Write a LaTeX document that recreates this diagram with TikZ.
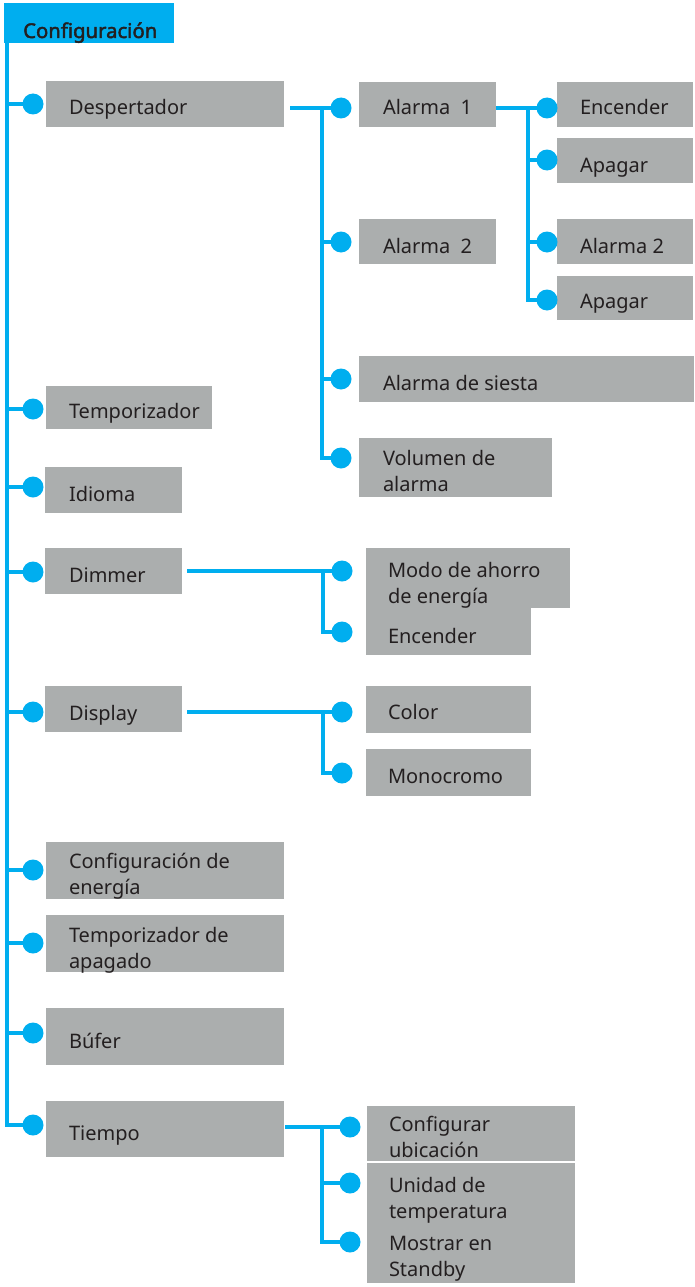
\documentclass[tikz,border=0pt]{standalone}
\usepackage{fontspec}
\setmainfont{Noto Sans}
\newfontfamily\hdrfont[FakeBold=2.2]{Noto Sans}
\usetikzlibrary{backgrounds}
\definecolor{cyanline}{HTML}{00AEEF}
\definecolor{boxgray}{HTML}{ABAEAE}
\definecolor{txt}{HTML}{231F20}
\begin{document}
\begin{tikzpicture}[x=1pt,y=-1pt,
  box/.style={fill=boxgray, draw=none, inner sep=0pt, outer sep=0pt, anchor=north west},
  lbl/.style={anchor=base west, inner sep=0pt, outer sep=0pt, text=txt, font=\fontsize{20}{26}\selectfont, align=left},
  dot/.style={circle, fill=cyanline, draw=none, inner sep=0pt, outer sep=0pt, minimum size=21pt},
  conn/.style={draw=cyanline, line width=4.7pt}]
\useasboundingbox (0,0) rectangle (695,1287);

% header
\node[box, fill=cyanline, minimum width=170pt, minimum height=40pt] (hdr) at (4,3) {};
\node[anchor=base west, inner sep=0pt, text=txt, font=\hdrfont\fontsize{20.3}{24}\selectfont] (hdrt) at (23,38) {Configuración};

% level 1 boxes
\node[box, minimum width=238pt, minimum height=46pt] (desp) at (46,81) {};
\node[box, minimum width=166pt, minimum height=43pt] (temp) at (46,386) {};
\node[box, minimum width=137pt, minimum height=46pt] (idioma) at (45,467) {};
\node[box, minimum width=137pt, minimum height=46pt] (dimmer) at (45,548) {};
\node[box, minimum width=137pt, minimum height=46pt] (display) at (45,686) {};
\node[box, minimum width=238pt, minimum height=57pt] (cfgen) at (46,842) {};
\node[box, minimum width=238pt, minimum height=57pt] (tapag) at (46,915) {};
\node[box, minimum width=238pt, minimum height=57pt] (bufer) at (46,1008) {};
\node[box, minimum width=238pt, minimum height=56pt] (tiempo) at (46,1101) {};

% level 2 (Despertador)
\node[box, minimum width=137pt, minimum height=45pt] (al1) at (359,82) {};
\node[box, minimum width=137pt, minimum height=45pt] (al2) at (359,219) {};
\node[box, minimum width=335pt, minimum height=46pt] (siesta) at (359,356) {};
\node[box, minimum width=193pt, minimum height=59pt] (vol) at (359,438) {};

% level 3 (Alarma 1)
\node[box, minimum width=136pt, minimum height=45pt] (enc1) at (557,82) {};
\node[box, minimum width=136pt, minimum height=45pt] (apa1) at (557,138) {};
\node[box, minimum width=136pt, minimum height=45pt] (al2b) at (557,219) {};
\node[box, minimum width=136pt, minimum height=44pt] (apa2) at (557,276) {};

% Dimmer group
\node[box, minimum width=204pt, minimum height=60pt] (modo) at (366,548) {};
\node[box, minimum width=165pt, minimum height=47pt] (enc2) at (366,608) {};
% Display group
\node[box, minimum width=165pt, minimum height=47pt] (color) at (366,686) {};
\node[box, minimum width=165pt, minimum height=47pt] (mono) at (366,749) {};
% Tiempo group
\node[box, minimum width=208pt, minimum height=55pt] (cfgub) at (367,1106) {};
\node[box, minimum width=208pt, minimum height=60pt] (unidad) at (367,1163) {};
\node[box, minimum width=208pt, minimum height=60pt] (mostrar) at (367,1223) {};

% labels (multi-line labels are placed at the baseline of their last line)
\node[lbl] (tdesp) at (69,115) {Despertador};
\node[lbl] (ttemp) at (69,418) {Temporizador};
\node[lbl] (tidi) at (69,501) {Idioma};
\node[lbl] (tdim) at (69,582) {Dimmer};
\node[lbl] (tdisp) at (69,720) {Display};
\node[lbl] (tcfg) at (69,894) {Configuración de\\energía};
\node[lbl] (ttap) at (69,968) {Temporizador de\\apagado};
\node[lbl] (tbuf) at (69,1048) {Búfer};
\node[lbl] (ttie) at (69,1140) {Tiempo};

\node[lbl] (tal1) at (383,115) {Alarma\ \ 1};
\node[lbl] (tal2) at (383,253) {Alarma\ \ 2};
\node[lbl] (tsie) at (383,390) {Alarma de siesta};
\node[lbl] (tvol) at (383,491) {Volumen de\\alarma};

\node[lbl] (tenc1) at (580,115) {Encender};
\node[lbl] (tapa1) at (580,172) {Apagar};
\node[lbl] (tal2b) at (580,253) {Alarma 2};
\node[lbl] (tapa2) at (580,308) {Apagar};

\node[lbl] (tmodo) at (388,603) {Modo de ahorro\\de energía};
\node[lbl] (tenc2) at (388,643) {Encender};
\node[lbl] (tcol) at (388,719) {Color};
\node[lbl] (tmono) at (388,783) {Monocromo};

\node[lbl] (tcfgub) at (389,1157) {Configurar\\ubicación};
\node[lbl] (tuni) at (389,1218) {Unidad de\\temperatura};
\node[lbl] (tmos) at (389,1276) {Mostrar en\\Standby};

% dots
\node[dot] (dDesp) at (33,104) {};
\node[dot] (dTemp) at (33,409) {};
\node[dot] (dIdi) at (33,487) {};
\node[dot] (dDim) at (33,572) {};
\node[dot] (dDisp) at (33,712) {};
\node[dot] (dCfg) at (33,870) {};
\node[dot] (dTap) at (33,943) {};
\node[dot] (dBuf) at (33,1033) {};
\node[dot] (dTie) at (33,1125) {};

\node[dot] (dA1) at (341,108) {};
\node[dot] (dA2) at (341,242) {};
\node[dot] (dSie) at (341,379) {};
\node[dot] (dVol) at (341,458) {};

\node[dot] (dEnc1) at (547,108) {};
\node[dot] (dApa1) at (547,160) {};
\node[dot] (dAl2b) at (547,242) {};
\node[dot] (dApa2) at (547,300) {};

\node[dot] (dModo) at (342,571) {};
\node[dot] (dEnc2) at (342,632) {};
\node[dot] (dCol) at (342,712) {};
\node[dot] (dMono) at (342,773) {};

\node[dot] (dCfgub) at (350,1127) {};
\node[dot] (dUni) at (350,1183) {};
\node[dot] (dMos) at (350,1242) {};

% junction coordinates
\coordinate (spine) at (7,3);
\coordinate (despJ) at (322,108);
\coordinate (a1J) at (528,108);
\coordinate (dimJ) at (323,571);
\coordinate (dispJ) at (323,712);
\coordinate (tieJ) at (322,1127);

\begin{scope}[on background layer]
  % main spine
  \draw[conn] (spine) |- (dTie);
  \foreach \d in {dDesp,dTemp,dIdi,dDim,dDisp,dCfg,dTap,dBuf}
    \draw[conn] (spine |- \d) -- (\d);
  % Despertador
  \draw[conn] ([xshift=6pt]desp.east |- dA1) -- (dA1);
  \draw[conn] (despJ) |- (dVol);
  \foreach \d in {dA2,dSie}
    \draw[conn] (despJ |- \d) -- (\d);
  % Alarma 1
  \draw[conn] (al1.east |- dEnc1) -- (dEnc1);
  \draw[conn] (a1J) |- (dApa2);
  \foreach \d in {dApa1,dAl2b}
    \draw[conn] (a1J |- \d) -- (\d);
  % Dimmer
  \draw[conn] ([xshift=5pt]dimmer.east |- dModo) -- (dModo);
  \draw[conn] (dimJ) |- (dEnc2);
  % Display
  \draw[conn] ([xshift=5pt]display.east |- dCol) -- (dCol);
  \draw[conn] (dispJ) |- (dMono);
  % Tiempo
  \draw[conn] ([xshift=1pt]tiempo.east |- dCfgub) -- (dCfgub);
  \draw[conn] (tieJ) |- (dMos);
  \draw[conn] (tieJ |- dUni) -- (dUni);
\end{scope}
\end{tikzpicture}
\end{document}
